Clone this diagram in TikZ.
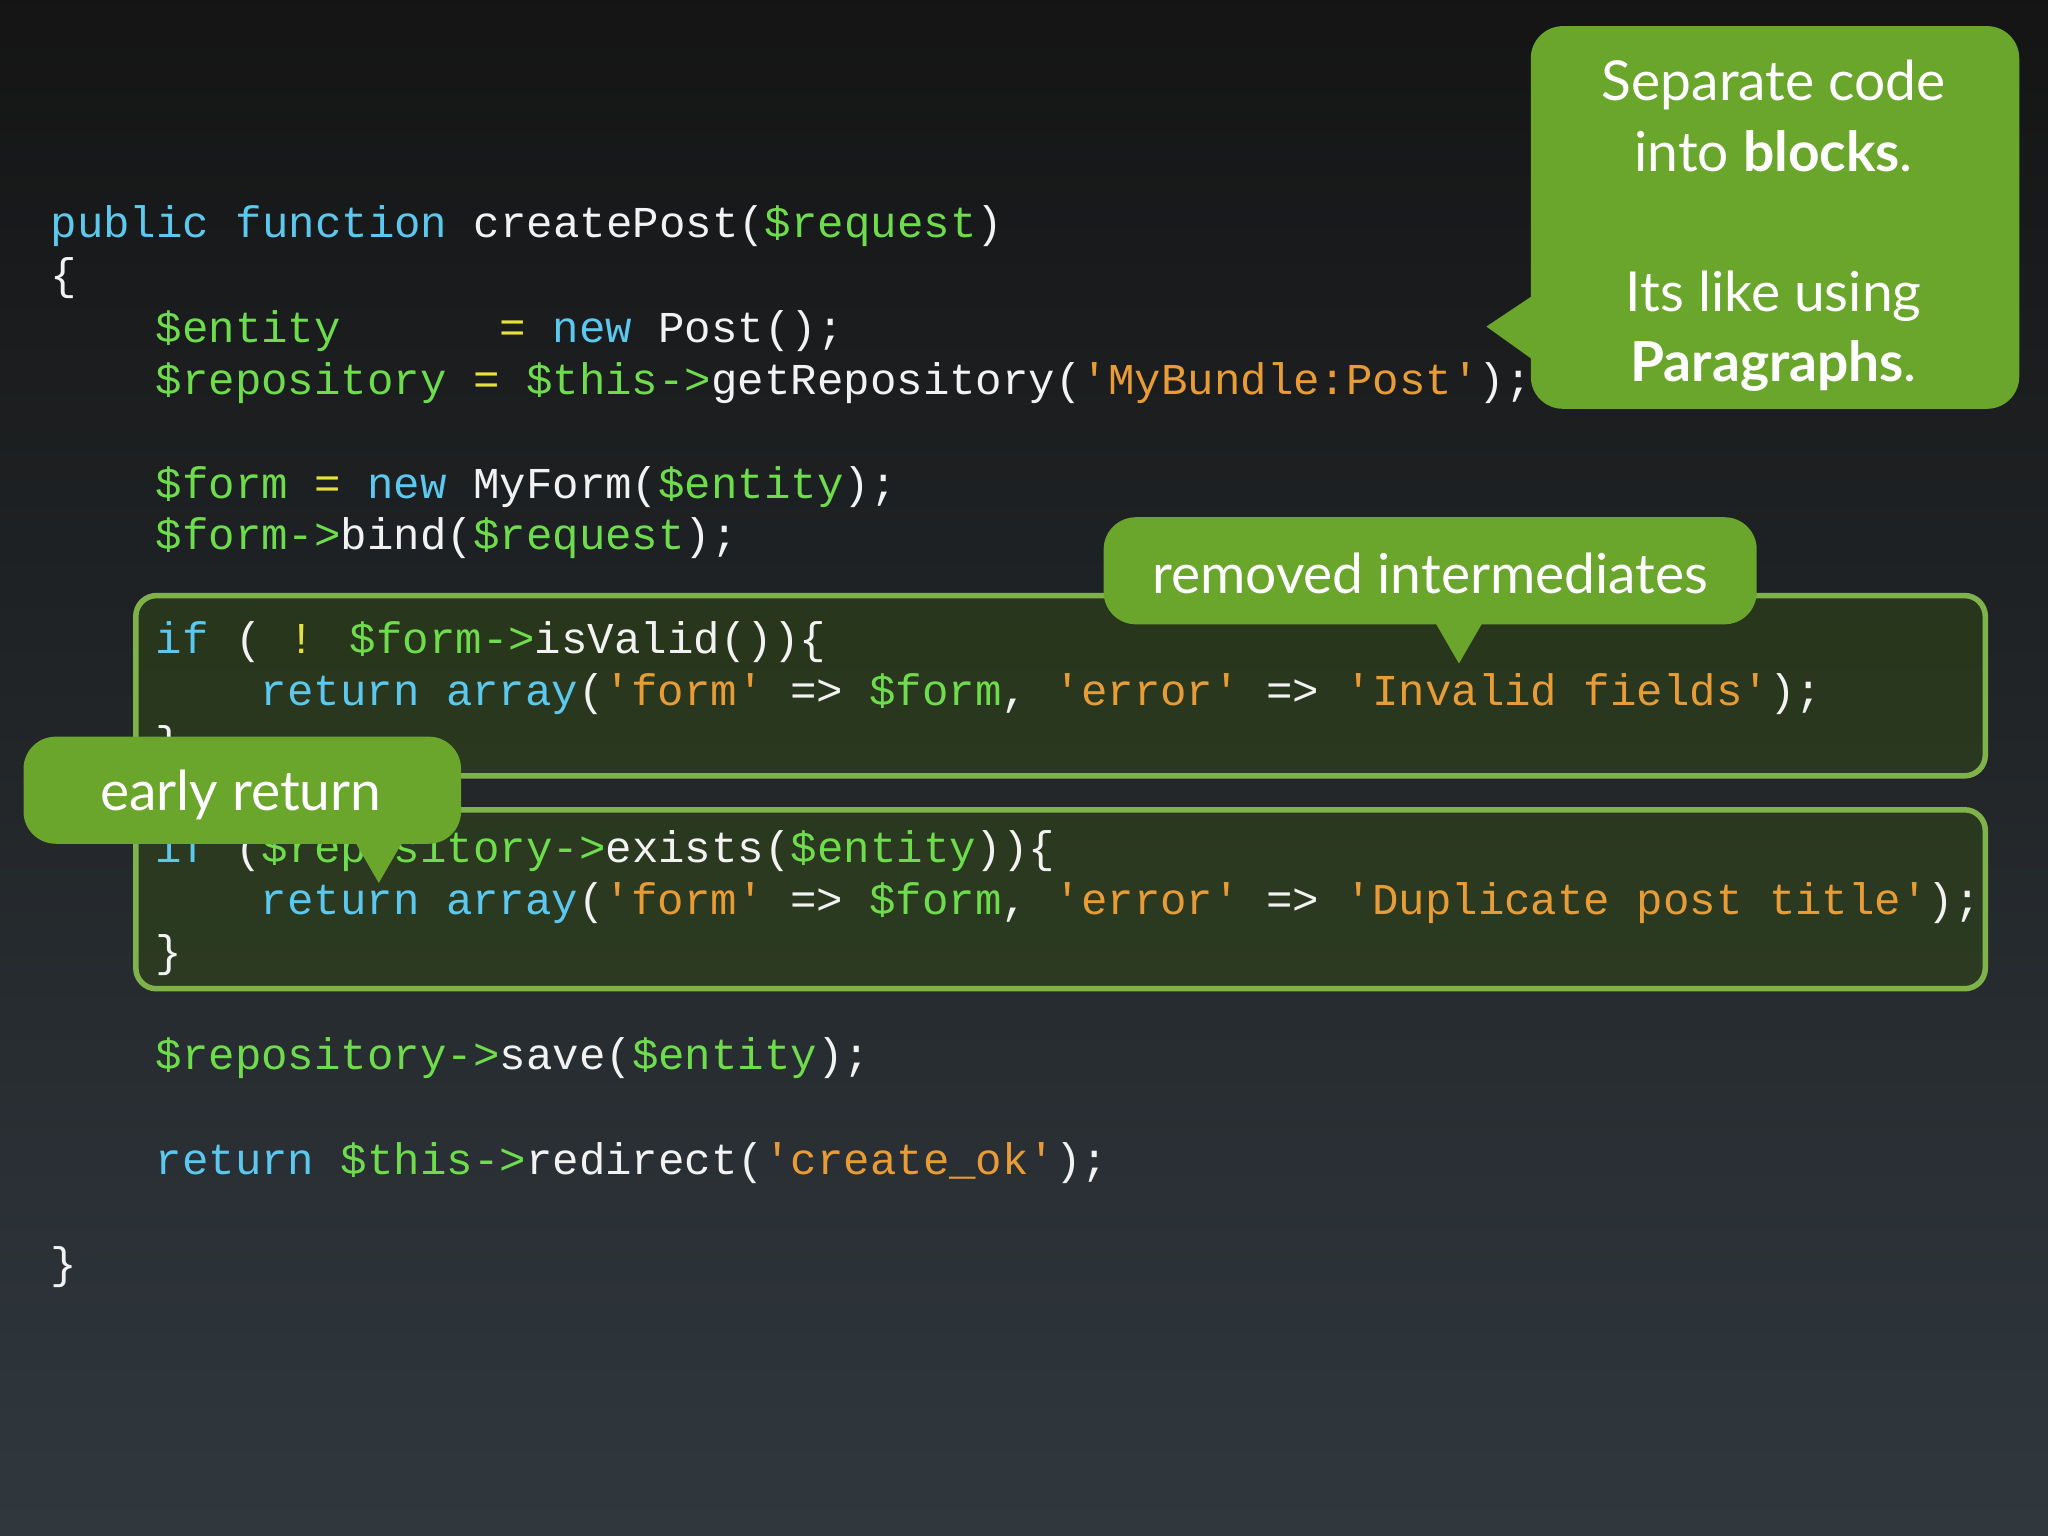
\documentclass[tikz,border=0pt]{standalone}
\usepackage{fontspec}
\setmainfont{Lato}
\newfontfamily\code{Liberation Mono}
\usetikzlibrary{fit}
\definecolor{kw}{HTML}{5CC8EE}
\definecolor{vr}{HTML}{6EDC4C}
\definecolor{st}{HTML}{E89C38}
\definecolor{yl}{HTML}{E6E040}
\definecolor{pl}{HTML}{F2F2F2}
\definecolor{callout}{HTML}{6AA52C}
\newcommand\K[1]{\textcolor{kw}{#1}}
\newcommand\V[1]{\textcolor{vr}{#1}}
\newcommand\Sq[1]{\textcolor{st}{#1}}
\newcommand\Y[1]{\textcolor{yl}{#1}}
\begin{document}
\begin{tikzpicture}[x=0.01cm,y=-0.01cm,
  codeline/.style={anchor=base west,inner sep=0,text=pl,font=\code\fontsize{9.6}{11}\selectfont},
  block/.style={draw=callout!85!white,line width=1.2pt,rounded corners=4.5pt,fill=callout!45!black,fill opacity=0.5,inner sep=0},
  bubble/.style={fill=callout,rounded corners=7pt,inner sep=0},
  btext/.style={text=white,font=\fontsize{12}{15.3}\selectfont,align=center,inner sep=0},
]
\useasboundingbox (0,0) rectangle (1568,1176);
\shade[top color=black!92,bottom color={rgb,255:red,48;green,56;blue,62}] (0,0) rectangle (1568,1176);
\node[block,fit={(104,456)(1520,594)}] (b1) {};
\node[block,fit={(104,620)(1520,757)}] (b2) {};
\def\cw{20.13}
\foreach \c/\y/\t in {
 0/182/{\K{public function} createPost(\V{\$request})},
 0/222/{\{},
 4/262/{\V{\$entity}~~~~~~\Y{=} \K{new} Post();},
 4/302/{\V{\$repository} \Y{=} \V{\$this->}getRepository(\Sq{'MyBundle:Post'});},
 4/382/{\V{\$form} \Y{=} \K{new} MyForm(\V{\$entity});},
 4/421/{\V{\$form->}bind(\V{\$request});},
 4/500/{\K{if} ( \Y{!} \V{\$form->}isValid())\{},
 8/540/{\K{return array}(\Sq{'form'} => \V{\$form}, \Sq{'error'} => \Sq{'Invalid fields'});},
 4/580/{\}},
 4/660/{\K{if} (\V{\$repository->}exists(\V{\$entity}))\{},
 8/700/{\K{return array}(\Sq{'form'} => \V{\$form}, \Sq{'error'} => \Sq{'Duplicate post title'});},
 4/740/{\}},
 4/819/{\V{\$repository->}save(\V{\$entity});},
 4/899/{\K{return} \V{\$this->}redirect(\Sq{'create\_ok'});},
 0/979/{\}}}
 \node[codeline] at ({38+\c*\cw},\y) {\t};
% callouts
\coordinate (p1) at (1138,250);
\fill[callout] (p1) -- (1180,222) -- (1180,280) -- cycle;
\node[bubble,fit={(1172,20)(1546,313)}] (c1) {};
\node[btext] (t1) at (1358,173) {Separate code\\into \textbf{blocks}.\\[15.3pt]Its like using\\\textbf{Paragraphs}.};
\coordinate (p2) at (1117,508);
\fill[callout] (p2) -- (1095,470) -- (1139,470) -- cycle;
\node[bubble,fit={(845,396)(1345,478)}] (c2) {};
\node[btext] (t2) at (1095,439) {removed intermediates};
\coordinate (p3) at (290,676);
\fill[callout] (p3) -- (268,638) -- (312,638) -- cycle;
\node[bubble,fit={(18,564)(353,646)}] (c3) {};
\node[btext,anchor=west] (t3) at (76,609) {early return};
\end{tikzpicture}
\end{document}
